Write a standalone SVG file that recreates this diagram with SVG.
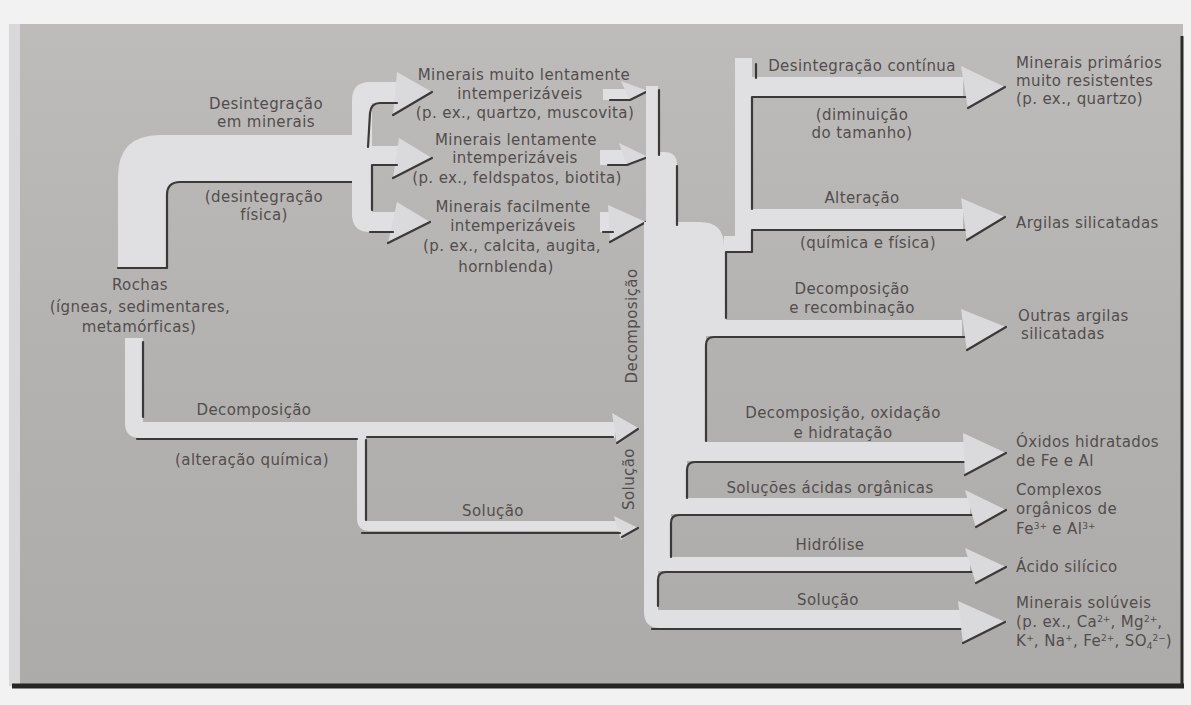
<svg xmlns="http://www.w3.org/2000/svg" width="1191" height="705" viewBox="0 0 1191 705">
<defs>
<linearGradient id="bg" x1="0" y1="0" x2="0" y2="1">
<stop offset="0" stop-color="#bebcba"/>
<stop offset="0.5" stop-color="#b4b2b0"/>
<stop offset="1" stop-color="#adaba9"/>
</linearGradient>
<style>
.band{fill:#e0e0e3}
.head{fill:#dadadd}
.sh{fill:none;stroke:#3b3939;stroke-width:2.2;stroke-linecap:round;stroke-linejoin:round}
.t{font-family:"DejaVu Sans","Open Sans",sans-serif;font-size:15px;letter-spacing:0.4px;fill:#524d4d}
.c{text-anchor:middle}
.s{font-size:9px;letter-spacing:0}
</style>
</defs>
<rect width="1191" height="705" fill="#f2f2f3"/>
<rect x="12" y="24" width="1171" height="662" fill="url(#bg)"/>
<rect x="9" y="24" width="11" height="662" fill="#d8d8da"/>
<path d="M1182,36 L1182,686" stroke="#2b2929" stroke-width="3" fill="none"/>
<path d="M12,686 L1184,686" stroke="#262424" stroke-width="5" fill="none"/>

<g id="connectors">
<path class="band" d="M118,268 L118,177 Q118,135 160,135 L360,135 L360,182 L180,182 Q167,182 167,195 L167,268 Z"/>
<path class="sh" d="M352,182 L180,182 Q167,182 167,195 L167,268 L118,268"/>
<path class="band" d="M352,100 Q352,82 370,82 L405,82 L405,103 L372,103 L372,146 L402,146 L402,165 L372,165 L372,212 L400,212 L400,232 L370,232 Q352,232 352,214 Z"/>
<polygon class="head" points="397,72 432,92 393,115"/>
<polygon class="head" points="399,138 432,158 393,178"/>
<polygon class="head" points="397,202 430,222 388,243"/>
<path class="sh" d="M397,103 L380,103 Q371,103 370,113 L368,147"/>
<path class="sh" d="M397,165 L372,165 L372,210"/>
<path class="sh" d="M370,232 L393,232"/>
<path class="sh" d="M393,115 L432,92"/>
<path class="sh" d="M393,178 L432,158"/>
<path class="sh" d="M388,243 L430,222"/>
<rect class="band" x="603" y="89" width="28" height="11"/>
<polygon class="head" points="621,81 648,91 630,101"/>
<rect class="band" x="600" y="150" width="28" height="15"/>
<polygon class="head" points="619,143 648,157 627,166"/>
<rect class="band" x="600" y="212" width="15" height="20"/>
<polygon class="head" points="608,205 646,222 610,242"/>
<path class="sh" d="M610,100 L630,100 L648,91"/>
<path class="sh" d="M608,165 L627,165 L648,157"/>
<path class="sh" d="M603,232 L613,232"/>
<path class="sh" d="M610,242 L646,222"/>
<rect class="band" x="646" y="86" width="12" height="80"/>
<path class="band" d="M646,152 L664,152 Q677,152 677,165 L677,232 L646,232 Z"/>
<path class="band" d="M646,222 L700,222 Q724,222 724,246 L724,236 L752,236 L752,252 L726,252 L726,320 L962,320 L962,336 L706,336 L706,442 L968,442 L968,461 L687,461 L687,498 L970,498 L970,514 L671,514 L671,557 L970,557 L970,571 L658,571 L658,610 L962,610 L962,628 L660,628 Q644,628 644,612 L644,222 Z"/>
<path class="sh" d="M659,90 L659,155"/>
<path class="sh" d="M677,166 L677,225"/>
<rect class="band" x="735" y="58" width="17" height="195"/>
<rect class="band" x="735" y="77" width="228" height="19"/>
<rect class="band" x="735" y="209" width="228" height="20"/>
<path class="sh" d="M756,64 L756,78"/>
<path class="sh" d="M972,97 L752,97 L752,209"/>
<path class="sh" d="M970,230 L752,230 L752,252 L726,252 L726,318"/>
<path class="sh" d="M969,337 L714,337 Q706,337 706,345 L706,441"/>
<path class="sh" d="M971,462 L695,462 Q687,462 687,470 L687,498"/>
<path class="sh" d="M976,515 L679,515 Q671,515 671,523 L671,557"/>
<path class="sh" d="M976,572 L666,572 Q658,572 658,580 L658,606"/>
<path class="sh" d="M967,629 L652,629"/>
<polygon class="head" points="961,66 1005,87 968,109"/>
<polygon class="head" points="961,198 1005,217 967,241"/>
<polygon class="head" points="961,309 1006,327 967,351"/>
<polygon class="head" points="963,433 1006,453 965,476"/>
<polygon class="head" points="965,490 1006,510 976,528"/>
<polygon class="head" points="965,548 1006,567 976,584"/>
<polygon class="head" points="958,601 1005,622 963,644"/>
<path class="sh" d="M968,108 L1005,87"/>
<path class="sh" d="M967,240 L1005,217"/>
<path class="sh" d="M967,350 L1006,327"/>
<path class="sh" d="M965,475 L1006,453"/>
<path class="sh" d="M976,527 L1006,510"/>
<path class="sh" d="M976,583 L1006,567"/>
<path class="sh" d="M963,643 L1005,622"/>
<path class="band" d="M125,338 L125,423 Q125,438 140,438 L615,438 L615,422 L143,422 L143,338 Z"/>
<path class="band" d="M357,430 L366,430 L366,521 L620,521 L620,531 L370,531 Q357,531 357,518 Z"/>
<polygon class="head" points="612,413 640,429 617,445"/>
<polygon class="head" points="614,516 638,528 621,540"/>
<path class="sh" d="M143,342 L143,417"/>
<path class="sh" d="M137,439 L357,439"/>
<path class="sh" d="M367,437 L613,437"/>
<path class="sh" d="M366,440 L366,520"/>
<path class="sh" d="M362,533 L620,533"/>
<path class="sh" d="M617,443 L638,429"/>
<path class="sh" d="M622,537 L638,528"/>
</g>

<g id="node-rochas" class="t c">
<text><tspan x="140" y="290">Rochas</tspan><tspan x="140" y="312">(ígneas, sedimentares,</tspan><tspan x="139" y="332">metamórficas)</tspan></text>
</g>
<g id="label-desintegracao" class="t c">
<text><tspan x="266" y="109">Desintegração</tspan><tspan x="266" y="127">em minerais</tspan></text>
</g>
<g id="label-desintegracao-fisica" class="t c">
<text><tspan x="264" y="202">(desintegração</tspan><tspan x="264" y="220">física)</tspan></text>
</g>
<g id="label-decomposicao" class="t c"><text x="254" y="415">Decomposição</text></g>
<g id="label-alteracao-quimica" class="t c"><text x="252" y="465">(alteração química)</text></g>
<g id="label-solucao-left" class="t c"><text x="493" y="516">Solução</text></g>

<g id="node-minerais-muito-lentos" class="t c">
<text><tspan x="524" y="80">Minerais muito lentamente</tspan><tspan x="520" y="99">intemperizáveis</tspan><tspan x="525" y="118">(p. ex., quartzo, muscovita)</tspan></text>
</g>
<g id="node-minerais-lentos" class="t c">
<text><tspan x="516" y="145">Minerais lentamente</tspan><tspan x="515" y="163">intemperizáveis</tspan><tspan x="517" y="183">(p. ex., feldspatos, biotita)</tspan></text>
</g>
<g id="node-minerais-faceis" class="t c">
<text><tspan x="513" y="212">Minerais facilmente</tspan><tspan x="513" y="231">intemperizáveis</tspan><tspan x="512" y="251">(p. ex., calcita, augita,</tspan><tspan x="506" y="272">hornblenda)</tspan></text>
</g>

<g id="label-trunk-decomposicao" class="t c"><text transform="translate(637,326) rotate(-90)">Decomposição</text></g>
<g id="label-trunk-solucao" class="t c"><text transform="translate(634,479) rotate(-90)">Solução</text></g>

<g id="label-desintegracao-continua" class="t c">
<text x="862" y="71">Desintegração contínua</text>
<text><tspan x="862" y="120">(diminuição</tspan><tspan x="862" y="138">do tamanho)</tspan></text>
</g>
<g id="label-alteracao" class="t c">
<text x="862" y="203">Alteração</text>
<text x="868" y="248">(química e física)</text>
</g>
<g id="label-recombinacao" class="t c">
<text><tspan x="852" y="294">Decomposição</tspan><tspan x="852" y="313">e recombinação</tspan></text>
</g>
<g id="label-oxidacao" class="t c">
<text><tspan x="843" y="418">Decomposição, oxidação</tspan><tspan x="843" y="438">e hidratação</tspan></text>
</g>
<g id="label-solucoes-acidas" class="t c"><text x="830" y="493">Soluções ácidas orgânicas</text></g>
<g id="label-hidrolise" class="t c"><text x="830" y="550">Hidrólise</text></g>
<g id="label-solucao-right" class="t c"><text x="828" y="605">Solução</text></g>

<g id="node-primarios" class="t">
<text><tspan x="1016" y="68">Minerais primários</tspan><tspan x="1016" y="86">muito resistentes</tspan><tspan x="1016" y="104">(p. ex., quartzo)</tspan></text>
</g>
<g id="node-argilas" class="t"><text x="1016" y="228">Argilas silicatadas</text></g>
<g id="node-outras-argilas" class="t">
<text><tspan x="1018" y="321">Outras argilas</tspan><tspan x="1021" y="339">silicatadas</tspan></text>
</g>
<g id="node-oxidos" class="t">
<text><tspan x="1016" y="447">Óxidos hidratados</tspan><tspan x="1016" y="466">de Fe e Al</tspan></text>
</g>
<g id="node-complexos" class="t">
<text><tspan x="1016" y="495">Complexos</tspan><tspan x="1016" y="514">orgânicos de</tspan><tspan x="1016" y="534">Fe</tspan><tspan class="s" dy="-5">3+</tspan><tspan dy="5"> e Al</tspan><tspan class="s" dy="-5">3+</tspan></text>
</g>
<g id="node-acido" class="t"><text x="1016" y="572">Ácido silícico</text></g>
<g id="node-soluveis" class="t">
<text><tspan x="1016" y="608">Minerais solúveis</tspan><tspan x="1016" y="627">(p. ex., Ca</tspan><tspan class="s" dy="-5">2+</tspan><tspan dy="5">, Mg</tspan><tspan class="s" dy="-5">2+</tspan><tspan dy="5">,</tspan><tspan x="1016" y="646">K</tspan><tspan class="s" dy="-5">+</tspan><tspan dy="5">, Na</tspan><tspan class="s" dy="-5">+</tspan><tspan dy="5">, Fe</tspan><tspan class="s" dy="-5">2+</tspan><tspan dy="5">, SO</tspan><tspan class="s" dy="3">4</tspan><tspan class="s" dy="-8">2−</tspan><tspan dy="5">)</tspan></text>
</g>
</svg>
